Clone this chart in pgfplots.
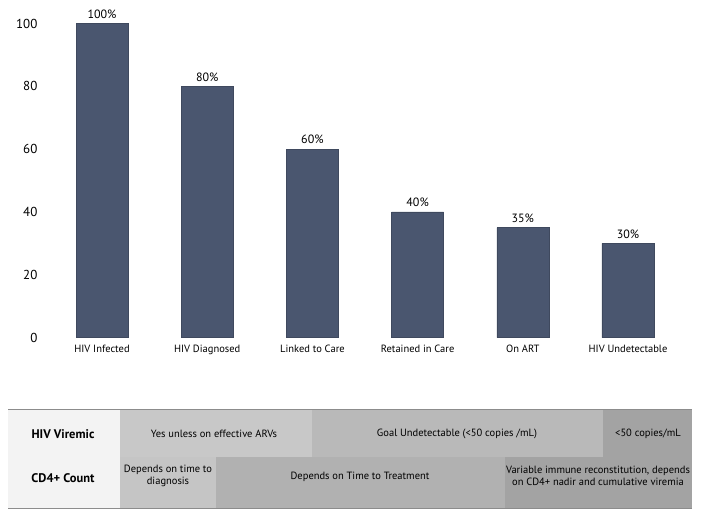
\documentclass[border=0pt]{standalone}
\usepackage{fontspec}
\setmainfont{PT Sans}
\usepackage{pgfplots}
\pgfplotsset{compat=1.18}
\definecolor{barc}{HTML}{4A566F}
\definecolor{lineg}{HTML}{8C8C8C}
\definecolor{leftc}{HTML}{F3F3F3}
\definecolor{lightA}{HTML}{C8C8C8}
\definecolor{lightB}{HTML}{C5C5C5}
\definecolor{goalc}{HTML}{B9B9B9}
\definecolor{treatc}{HTML}{B1B1B1}
\definecolor{darkc}{HTML}{A3A3A3}
\begin{document}
\begin{tikzpicture}
\useasboundingbox (0,0) rectangle (701pt,-517pt);
\begin{axis}[
  at={(38.9pt,-337.5pt)}, anchor=south west,
  scale only axis, width=652.2pt, height=314pt,
  xmin=-0.6, xmax=5.6, ymin=0, ymax=100,
  axis line style={draw=none},
  major tick length=0pt,
  xtick={0,1,2,3,4,5},
  xticklabels={HIV Infected, HIV Diagnosed, Linked to Care, Retained in Care, On ART, HIV Undetectable},
  ytick={0,20,40,60,80,100},
  /pgf/number format/assume math mode=true,
  xticklabel style={font=\fontsize{10.5}{12}\selectfont, yshift=-4pt},
  yticklabel style={font=\fontsize{13}{15}\selectfont, xshift=2pt},
  ybar, bar width=52pt,
  clip=false,
  nodes near coords={\pgfmathprintnumber{\pgfplotspointmeta}\%},
  nodes near coords style={font=\fontsize{12}{14}\selectfont, text=black, yshift=1.5pt},
]
\addplot[fill=barc, draw=barc!85!black] coordinates {(0,100) (1,80) (2,60) (3,40) (4,35) (5,30)};
\end{axis}
% table
\fill[leftc] (8pt,-410pt) rectangle (120pt,-508pt);
\fill[lightA] (120pt,-410pt) rectangle (312pt,-457pt);
\fill[goalc] (312pt,-410pt) rectangle (603pt,-457pt);
\fill[darkc] (603pt,-410pt) rectangle (692pt,-457pt);
\fill[lightB] (120pt,-457pt) rectangle (216pt,-508pt);
\fill[treatc] (216pt,-457pt) rectangle (505pt,-508pt);
\fill[darkc] (505pt,-457pt) rectangle (692pt,-508pt);
\draw[lineg, line width=1pt] (8pt,-409.5pt) -- (692pt,-409.5pt);
\draw[lineg, line width=1pt] (8pt,-508.5pt) -- (692pt,-508.5pt);
\begin{scope}[every node/.style={font=\fontsize{10.5}{12.5}\selectfont, align=center, inner sep=0pt}]
\node[font=\fontsize{12.5}{14}\selectfont\bfseries] at (63pt,-434pt) {HIV Viremic};
\node[font=\fontsize{12.5}{14}\selectfont\bfseries] at (63pt,-478pt) {CD4+ Count};
\node at (214pt,-434pt) {Yes unless on effective ARVs};
\node at (457pt,-434pt) {Goal Undetectable (<50 copies /mL)};
\node at (648pt,-434pt) {<50 copies/mL};
\node at (168pt,-476pt) {Depends on time to\\diagnosis};
\node at (360pt,-477pt) {Depends on Time to Treatment};
\node at (598pt,-476pt) {Variable immune reconstitution, depends\\on CD4+ nadir and cumulative viremia};
\end{scope}
\end{tikzpicture}
\end{document}
